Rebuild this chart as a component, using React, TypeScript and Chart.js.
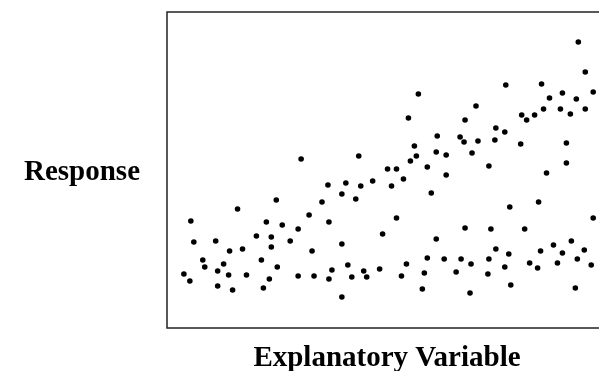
import React, { useEffect, useRef } from "react";
import { Chart, registerables } from "chart.js";

Chart.register(...registerables);

// Explanatory variable values (arbitrary units)
const xValues: number[] = [
  17, 23, 24, 27, 36, 38, 49, 51, 51, 57, 62, 63, 66, 71, 76, 80, 90, 95, 97, 100,
  103, 105, 105, 110, 111, 116, 124, 132, 132, 135, 143, 146, 148, 156, 162, 163, 163, 166, 176, 176,
  176, 180, 182, 186, 190, 193, 195, 198, 201, 207, 214, 217, 222, 226, 231, 231, 236, 238, 241, 243,
  245, 249, 251, 253, 257, 259, 262, 262, 266, 271, 271, 272, 279, 281, 281, 291, 295, 296, 299, 300,
  300, 305, 306, 307, 311, 313, 323, 324, 324, 326, 330, 331, 331, 340, 340, 341, 344, 345, 346, 356,
  357, 360, 362, 365, 370, 373, 374, 376, 377, 379, 382, 385, 389, 393, 396, 398, 398, 402, 402, 406,
  407, 411, 412, 413, 414, 420, 421, 421, 427, 429, 429,
];

// Response values (arbitrary units)
const yValues: number[] = [
  54, 47, 107, 86, 68, 61, 87, 57, 42, 64, 53, 77, 38, 119, 79, 53, 92, 68, 40, 106,
  49, 91, 81, 128, 61, 103, 87, 99, 52, 169, 113, 77, 52, 126, 143, 49, 106, 58, 134, 84,
  31, 145, 63, 51, 129, 172, 142, 57, 51, 147, 59, 94, 159, 142, 159, 110, 52, 149, 64, 210,
  167, 182, 172, 234, 39, 55, 161, 70, 135, 176, 89, 192, 69, 173, 153, 56, 191, 69, 186, 208,
  100, 35, 64, 175, 222, 187, 54, 162, 69, 99, 188, 200, 79, 196, 61, 243, 74, 121, 43, 184,
  213, 99, 208, 65, 213, 60, 126, 77, 244, 219, 155, 230, 83, 65, 219, 75, 235, 185, 165, 214,
  87, 40, 229, 69, 286, 78, 256, 219, 63, 236, 110,
];

const yTitle = "Response";
const xTitle = "Explanatory Variable";

const X_MIN = 0;
const X_MAX = 432;
const Y_MIN = 0;
const Y_MAX = 316;

export default function App() {
  const canvasRef = useRef<HTMLCanvasElement | null>(null);

  useEffect(() => {
    if (!canvasRef.current) return;
    const points = xValues.map((x, i) => ({ x, y: yValues[i] }));

    const framePlugin = {
      id: "frameAndTitles",
      beforeDatasetsDraw(chart: any) {
        const { ctx, chartArea } = chart;
        ctx.save();
        ctx.strokeStyle = "#222";
        ctx.lineWidth = 1.5;
        ctx.strokeRect(
          chartArea.left,
          chartArea.top,
          chartArea.right - chartArea.left + 30,
          chartArea.bottom - chartArea.top
        );
        ctx.fillStyle = "#000";
        ctx.font = "bold 29px 'Liberation Serif', 'Times New Roman', serif";
        ctx.textAlign = "center";
        ctx.textBaseline = "alphabetic";
        ctx.fillText(yTitle, 82, 180);
        ctx.fillText(xTitle, 387, 366);
        ctx.restore();
      },
    };

    const chart = new Chart(canvasRef.current, {
      type: "scatter",
      data: {
        datasets: [
          {
            data: points,
            backgroundColor: "#000",
            borderWidth: 0,
            pointRadius: 2.8,
            pointHoverRadius: 2.8,
          },
        ],
      },
      options: {
        animation: false,
        responsive: false,
        maintainAspectRatio: false,
        layout: { padding: { left: 167, right: 0, top: 12, bottom: 43 } },
        plugins: {
          legend: { display: false },
          tooltip: { enabled: false },
        },
        scales: {
          x: { type: "linear", min: X_MIN, max: X_MAX, display: false },
          y: { type: "linear", min: Y_MIN, max: Y_MAX, display: false },
        },
      },
      plugins: [framePlugin],
    });
    return () => chart.destroy();
  }, []);

  return (
    <div
      style={{
        position: "fixed",
        left: 0,
        top: 0,
        width: 599,
        height: 371,
        background: "#fff",
        overflow: "hidden",
      }}
    >
      <canvas ref={canvasRef} width={599} height={371} style={{ display: "block" }} />
    </div>
  );
}
